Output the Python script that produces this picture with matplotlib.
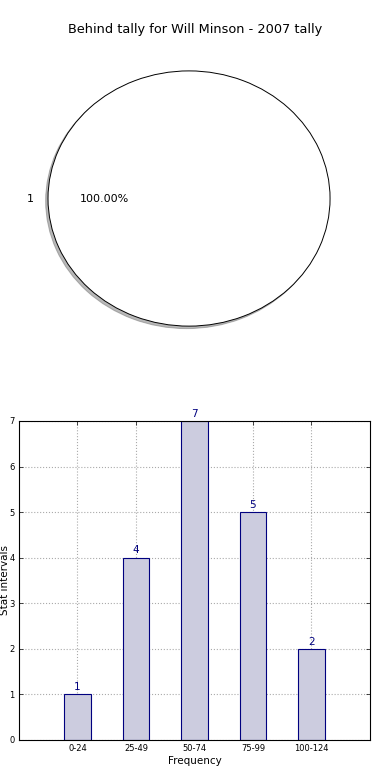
"""Behind tally pie and frequency bars for Will Minson (2007)."""

import matplotlib

matplotlib.use("Agg")
import matplotlib.pyplot as plt
import numpy as np

TITLE = "Behind tally for Will Minson - 2007 tally"
PIE_LABELS = ["1"]
PIE_VALUES = [1]

BIN_LABELS = ["0-24", "25-49", "50-74", "75-99", "100-124"]
BIN_COUNTS = [1, 4, 7, 5, 2]

BAR_FILL = "#ccccdf"
BAR_EDGE = "#00007f"

fig = plt.figure(figsize=(3.9, 7.8), dpi=100)
fig.text(0.5, 1 - 30 / 780, TITLE, ha="center", va="center", fontsize=9.3)

# pie on top, stretched like the old non-equal-aspect look
ax_pie = fig.add_axes([0.0327, 0.541, 0.904, 0.409])
wedges, texts, autotexts = ax_pie.pie(
    PIE_VALUES,
    labels=PIE_LABELS,
    autopct="%1.2f%%",
    shadow={"ox": -0.012, "oy": -0.014, "shade": 0.55},
    colors=["white"],
    wedgeprops={"edgecolor": "black", "linewidth": 0.7},
    textprops={"fontsize": 8},
)
ax_pie.set_aspect("auto")
ax_pie.set_xlim(-1.25, 1.25)
ax_pie.set_ylim(-1.25, 1.25)
ax_pie.axis("off")

# frequency bars below
ax_bar = fig.add_axes([0.0487, 0.0513, 0.9, 0.409])
x = np.arange(1, len(BIN_COUNTS) + 1)
ax_bar.bar(x, BIN_COUNTS, width=0.45, color=BAR_FILL, edgecolor=BAR_EDGE, linewidth=0.8, zorder=2)
for xi, count in zip(x, BIN_COUNTS):
    ax_bar.text(xi, count + 0.05, str(count), ha="center", va="bottom", color=BAR_EDGE, fontsize=7.5)
ax_bar.set_xlim(0, len(BIN_COUNTS) + 1)
ax_bar.set_ylim(0, max(BIN_COUNTS))
ax_bar.set_xticks(x)
ax_bar.set_xticklabels(BIN_LABELS)
ax_bar.set_yticks(range(0, max(BIN_COUNTS) + 1))
ax_bar.tick_params(direction="in", labelsize=6, top=True, right=True, length=3, width=0.5, pad=3)
ax_bar.grid(True, linestyle=":", color="#aaaaaa", linewidth=0.8, zorder=0)
ax_bar.set_axisbelow(True)
ax_bar.set_xlabel("Frequency", fontsize=7.5, labelpad=2)
ax_bar.set_ylabel("Stat intervals", fontsize=7.5)
ax_bar.yaxis.set_label_coords(-0.026, 0.5)
for spine in ax_bar.spines.values():
    spine.set_linewidth(0.8)

fig.savefig("out.png", dpi=100)
